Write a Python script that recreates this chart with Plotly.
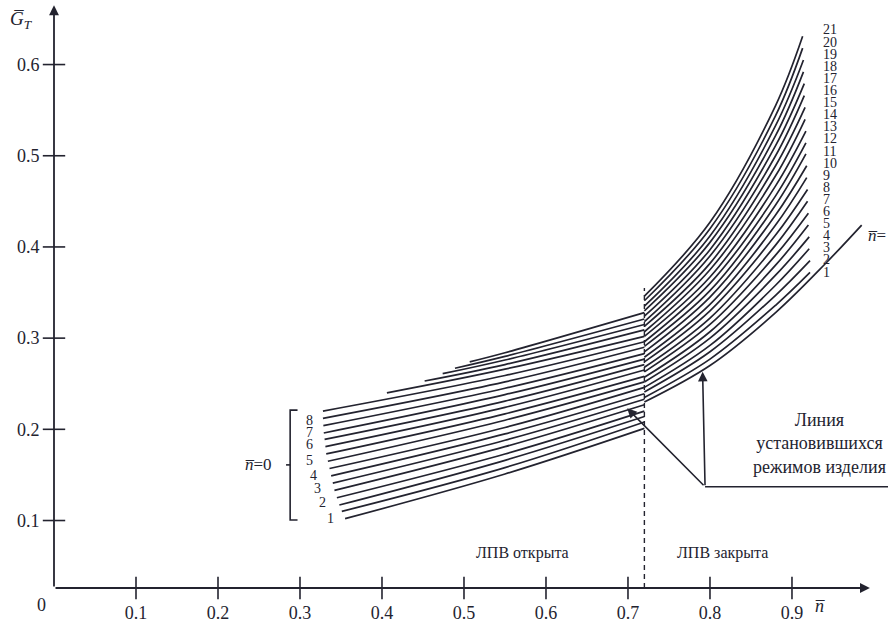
import plotly.graph_objects as go

# ---------------- data ----------------
# Left zone (ЛПВ открыта): 21 curves, start point, value at n=0.55, value at n=0.72
left_start_n = [0.355, 0.351, 0.348, 0.345, 0.342, 0.340, 0.338, 0.336, 0.334, 0.332, 0.331,
                0.330, 0.329, 0.3285, 0.328, 0.328, 0.406, 0.452, 0.474, 0.489, 0.507]
left_start_g = [0.102, 0.110, 0.117, 0.125, 0.133, 0.141, 0.149, 0.157, 0.165, 0.173, 0.181,
                0.189, 0.196, 0.204, 0.212, 0.220, 0.240, 0.253, 0.261, 0.267, 0.274]
left_mid_n = 0.55
left_mid_g = [0.151, 0.158, 0.166, 0.173, 0.181, 0.188, 0.195, 0.202, 0.210, 0.217, 0.224,
              0.231, 0.238, 0.245, 0.252, 0.259, 0.266, 0.271, 0.276, 0.280, 0.284]
left_end_n = 0.72
left_end_g = [0.201, 0.208, 0.214, 0.220, 0.227, 0.233, 0.239, 0.246, 0.252, 0.258, 0.265,
              0.271, 0.277, 0.283, 0.290, 0.296, 0.302, 0.309, 0.315, 0.321, 0.328]

# Right zone (ЛПВ закрыта): 21 curves, values at n = 0.72, 0.80, 0.88 and end point
right_n_grid = [0.72, 0.80, 0.88]
right_g_072 = [0.235, 0.241, 0.246, 0.252, 0.257, 0.263, 0.268, 0.274, 0.279, 0.285, 0.291,
               0.296, 0.302, 0.307, 0.313, 0.318, 0.324, 0.330, 0.335, 0.341, 0.346]
right_g_080 = [0.277, 0.285, 0.292, 0.300, 0.307, 0.315, 0.322, 0.330, 0.337, 0.345, 0.352,
               0.360, 0.367, 0.375, 0.382, 0.390, 0.397, 0.405, 0.412, 0.420, 0.427]
right_g_088 = [0.336, 0.347, 0.358, 0.369, 0.380, 0.391, 0.402, 0.413, 0.424, 0.435, 0.446,
               0.456, 0.467, 0.478, 0.489, 0.500, 0.511, 0.522, 0.533, 0.544, 0.555]
right_end_n = [0.922, 0.922, 0.921, 0.921, 0.920, 0.920, 0.919, 0.919, 0.918, 0.918, 0.917,
               0.917, 0.917, 0.916, 0.916, 0.915, 0.915, 0.914, 0.914, 0.913, 0.913]
right_end_g = [0.372, 0.385, 0.398, 0.411, 0.424, 0.437, 0.450, 0.463, 0.476, 0.489, 0.502,
               0.514, 0.527, 0.540, 0.553, 0.566, 0.579, 0.592, 0.605, 0.618, 0.631]

# Steady-state line (Линия установившихся режимов изделия)
steady_n = [0.72, 0.80, 0.88, 0.94, 0.985]
steady_g = [0.230, 0.270, 0.328, 0.381, 0.424]

# Curve labels
right_labels = [str(i) for i in range(1, 22)]
right_label_g = [0.3725, 0.3858, 0.3990, 0.4123, 0.4256, 0.4389, 0.4521, 0.4654, 0.4787, 0.4919,
                 0.5052, 0.5185, 0.5317, 0.5450, 0.5583, 0.5716, 0.5848, 0.5981, 0.6114, 0.6246, 0.6379]
left_labels = ["1", "2", "3", "4", "5", "6", "7", "8"]
left_label_n = [0.337, 0.327, 0.321, 0.316, 0.312, 0.312, 0.311, 0.311]
left_label_g = [0.102, 0.120, 0.135, 0.149, 0.166, 0.183, 0.197, 0.210]

# Axes
x_ticks = [0.1, 0.2, 0.3, 0.4, 0.5, 0.6, 0.7, 0.8, 0.9]
x_tick_labels = ["0.1", "0.2", "0.3", "0.4", "0.5", "0.6", "0.7", "0.8", "0.9"]
y_ticks = [0.1, 0.2, 0.3, 0.4, 0.5, 0.6]
y_tick_labels = ["0.1", "0.2", "0.3", "0.4", "0.5", "0.6"]
LPV_SWITCH_N = 0.72

# ---------------- figure ----------------
INK = "#23232f"
SERIF = "Liberation Serif"
X0, X1 = 0.0, 1.0171
Y0, Y1 = 0.026, 0.6664
BAR = "\u0305"
LW = 1.7

fig = go.Figure()

for i in range(len(left_start_n)):
    fig.add_trace(go.Scatter(
        x=[left_start_n[i], left_mid_n, left_end_n],
        y=[left_start_g[i], left_mid_g[i], left_end_g[i]],
        mode="lines", line=dict(color=INK, width=LW, shape="spline"),
        hoverinfo="skip", showlegend=False))

for i in range(len(right_g_072)):
    fig.add_trace(go.Scatter(
        x=right_n_grid + [right_end_n[i]],
        y=[right_g_072[i], right_g_080[i], right_g_088[i], right_end_g[i]],
        mode="lines", line=dict(color=INK, width=LW, shape="spline"),
        hoverinfo="skip", showlegend=False))

fig.add_trace(go.Scatter(x=steady_n, y=steady_g, mode="lines",
                         line=dict(color=INK, width=LW, shape="spline"),
                         hoverinfo="skip", showlegend=False))

# dashed boundary
fig.add_trace(go.Scatter(x=[LPV_SWITCH_N, LPV_SWITCH_N], y=[Y0, 0.355], mode="lines",
                         line=dict(color=INK, width=1.4, dash="5px,4px"),
                         hoverinfo="skip", showlegend=False))

# tick marks crossing the axes
fig.add_trace(go.Scatter(x=x_ticks, y=[Y0] * len(x_ticks), mode="markers",
                         marker=dict(symbol="line-ns", size=16, line=dict(color=INK, width=1.6)),
                         cliponaxis=False, hoverinfo="skip", showlegend=False))
fig.add_trace(go.Scatter(x=[0] * len(y_ticks), y=y_ticks, mode="markers",
                         marker=dict(symbol="line-ew", size=16, line=dict(color=INK, width=1.6)),
                         cliponaxis=False, hoverinfo="skip", showlegend=False))

ann = []
# axes with arrows
ann.append(dict(x=0.995, y=Y0, ax=0, ay=Y0, xref="x", yref="y", axref="x", ayref="y",
                text="", showarrow=True, arrowhead=2, arrowsize=1.1, arrowwidth=1.8, arrowcolor=INK))
ann.append(dict(x=0, y=0.665, ax=0, ay=Y0, xref="x", yref="y", axref="x", ayref="y",
                text="", showarrow=True, arrowhead=2, arrowsize=1.1, arrowwidth=1.8, arrowcolor=INK))

# curve number labels
for t, g in zip(right_labels, right_label_g):
    ann.append(dict(x=0.935, y=g, text=t, showarrow=False, xanchor="left", yanchor="middle",
                    font=dict(family=SERIF, size=14, color=INK)))
for t, n, g in zip(left_labels, left_label_n, left_label_g):
    ann.append(dict(x=n, y=g, text=t, showarrow=False, xanchor="center", yanchor="middle",
                    font=dict(family=SERIF, size=14, color=INK)))

# axis titles and origin (paper coordinates, outside the data range)
ann.append(dict(x=-0.0384, y=0.972, xref="paper", yref="paper", xanchor="center", yanchor="middle",
                text="<i>G" + BAR + "</i><sub><i>T</i></sub>", showarrow=False,
                font=dict(family=SERIF, size=19, color=INK)))
ann.append(dict(x=0.9185, y=-0.0308, xref="paper", yref="paper", xanchor="center", yanchor="middle",
                text="<i>n" + BAR + "</i>", showarrow=False,
                font=dict(family=SERIF, size=18, color=INK)))
ann.append(dict(x=-0.0144, y=-0.0291, xref="paper", yref="paper", xanchor="center", yanchor="middle",
                text="0", showarrow=False, font=dict(family=SERIF, size=18, color=INK)))

# zone texts
ann.append(dict(x=0.571, y=0.064, text="ЛПВ открыта", showarrow=False,
                font=dict(family=SERIF, size=16, color=INK)))
ann.append(dict(x=0.815, y=0.064, text="ЛПВ закрыта", showarrow=False,
                font=dict(family=SERIF, size=16, color=INK)))
ann.append(dict(x=0.99, y=0.413, text="<i>n" + BAR + "</i>=", showarrow=False, xanchor="left",
                font=dict(family=SERIF, size=17, color=INK)))

# bracket label
ann.append(dict(x=0.249, y=0.161, text="<i>n" + BAR + "</i>=0", showarrow=False,
                font=dict(family=SERIF, size=17, color=INK)))

# steady-state callout
ann.append(dict(x=1.0, y=0.184, xref="paper", yref="y", xanchor="right", yanchor="middle",
                text="Линия<br>установившихся<br>режимов изделия",
                showarrow=False, align="center",
                font=dict(family=SERIF, size=18, color=INK)))
for hx, hy in [(0.699, 0.223), (0.791, 0.263)]:
    ann.append(dict(x=hx, y=hy, ax=0.794, ay=0.137, xref="x", yref="y", axref="x", ayref="y",
                    text="", showarrow=True, arrowhead=2, arrowsize=1.2, arrowwidth=1.6,
                    arrowcolor=INK))

shapes = [
    dict(type="line", x0=0.794, y0=0.137, x1=X1, y1=0.137, xref="x", yref="y",
         line=dict(color=INK, width=1.6)),
    # bracket for n=0
    dict(type="path", xref="x", yref="y",
         path="M 0.297 0.221 L 0.288 0.221 L 0.288 0.1006 L 0.297 0.1006",
         line=dict(color=INK, width=1.6)),
    dict(type="line", x0=0.288, y0=0.161, x1=0.283, y1=0.161, xref="x", yref="y",
         line=dict(color=INK, width=1.6)),
]

fig.update_layout(
    width=890, height=624,
    margin=dict(l=54, r=2, t=4, b=36),
    paper_bgcolor="white", plot_bgcolor="white",
    annotations=ann, shapes=shapes,
    xaxis=dict(range=[X0, X1], tickvals=x_ticks, ticktext=x_tick_labels,
               showgrid=False, zeroline=False, showline=False,
               ticks="outside", ticklen=8, tickcolor="rgba(0,0,0,0)",
               tickfont=dict(family=SERIF, size=18, color=INK), fixedrange=True),
    yaxis=dict(range=[Y0, Y1], tickvals=y_ticks, ticktext=y_tick_labels,
               showgrid=False, zeroline=False, showline=False,
               ticks="outside", ticklen=10, tickcolor="rgba(0,0,0,0)",
               tickfont=dict(family=SERIF, size=18, color=INK), fixedrange=True),
)

fig.write_html("out.html",
               config={"displayModeBar": False, "staticPlot": True},
               post_script="document.body.style.margin='0px';document.body.style.overflow='hidden';")
